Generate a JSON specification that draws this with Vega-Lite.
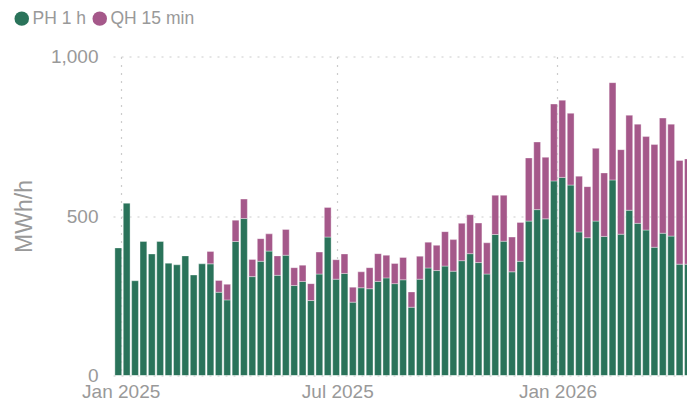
{
  "$schema": "https://vega.github.io/schema/vega-lite/v6.json",
  "width": 574,
  "height": 319,
  "autosize": "none",
  "padding": {"left": 113, "top": 56.5, "right": 0, "bottom": 28.5},
  "background": "white",
  "config": {
    "font": "Liberation Sans",
    "view": {"stroke": null}
  },
  "datasets": {
    "weeks": [
      {"week": "2024-12-30", "ph": 400, "qh": 0},
      {"week": "2025-01-06", "ph": 540, "qh": 0},
      {"week": "2025-01-13", "ph": 297, "qh": 0},
      {"week": "2025-01-20", "ph": 420, "qh": 0},
      {"week": "2025-01-27", "ph": 381, "qh": 0},
      {"week": "2025-02-03", "ph": 420, "qh": 0},
      {"week": "2025-02-10", "ph": 352, "qh": 0},
      {"week": "2025-02-17", "ph": 347, "qh": 0},
      {"week": "2025-02-24", "ph": 375, "qh": 0},
      {"week": "2025-03-03", "ph": 315, "qh": 0},
      {"week": "2025-03-10", "ph": 350, "qh": 0},
      {"week": "2025-03-17", "ph": 350, "qh": 39},
      {"week": "2025-03-24", "ph": 261, "qh": 37},
      {"week": "2025-03-31", "ph": 237, "qh": 49},
      {"week": "2025-04-07", "ph": 420, "qh": 67},
      {"week": "2025-04-14", "ph": 492, "qh": 61},
      {"week": "2025-04-21", "ph": 310, "qh": 54},
      {"week": "2025-04-28", "ph": 358, "qh": 71},
      {"week": "2025-05-05", "ph": 390, "qh": 54},
      {"week": "2025-05-12", "ph": 314, "qh": 61},
      {"week": "2025-05-19", "ph": 377, "qh": 81},
      {"week": "2025-05-26", "ph": 282, "qh": 56},
      {"week": "2025-06-02", "ph": 295, "qh": 51},
      {"week": "2025-06-09", "ph": 235, "qh": 53},
      {"week": "2025-06-16", "ph": 318, "qh": 69},
      {"week": "2025-06-23", "ph": 434, "qh": 93},
      {"week": "2025-06-30", "ph": 302, "qh": 61},
      {"week": "2025-07-07", "ph": 320, "qh": 61},
      {"week": "2025-07-14", "ph": 230, "qh": 47},
      {"week": "2025-07-21", "ph": 275, "qh": 50},
      {"week": "2025-07-28", "ph": 272, "qh": 66},
      {"week": "2025-08-04", "ph": 295, "qh": 87},
      {"week": "2025-08-11", "ph": 306, "qh": 71},
      {"week": "2025-08-18", "ph": 288, "qh": 63},
      {"week": "2025-08-25", "ph": 300, "qh": 70},
      {"week": "2025-09-01", "ph": 214, "qh": 48},
      {"week": "2025-09-08", "ph": 302, "qh": 72},
      {"week": "2025-09-15", "ph": 337, "qh": 81},
      {"week": "2025-09-22", "ph": 329, "qh": 79},
      {"week": "2025-09-29", "ph": 343, "qh": 108},
      {"week": "2025-10-06", "ph": 327, "qh": 99},
      {"week": "2025-10-13", "ph": 360, "qh": 117},
      {"week": "2025-10-20", "ph": 382, "qh": 122},
      {"week": "2025-10-27", "ph": 354, "qh": 124},
      {"week": "2025-11-03", "ph": 318, "qh": 98},
      {"week": "2025-11-10", "ph": 442, "qh": 123},
      {"week": "2025-11-17", "ph": 421, "qh": 144},
      {"week": "2025-11-24", "ph": 325, "qh": 109},
      {"week": "2025-12-01", "ph": 358, "qh": 122},
      {"week": "2025-12-08", "ph": 484, "qh": 198},
      {"week": "2025-12-15", "ph": 520, "qh": 212},
      {"week": "2025-12-22", "ph": 491, "qh": 193},
      {"week": "2025-12-29", "ph": 610, "qh": 241},
      {"week": "2026-01-05", "ph": 621, "qh": 242},
      {"week": "2026-01-12", "ph": 597, "qh": 225},
      {"week": "2026-01-19", "ph": 450, "qh": 175},
      {"week": "2026-01-26", "ph": 432, "qh": 160},
      {"week": "2026-02-02", "ph": 484, "qh": 228},
      {"week": "2026-02-09", "ph": 436, "qh": 199},
      {"week": "2026-02-16", "ph": 613, "qh": 305},
      {"week": "2026-02-23", "ph": 443, "qh": 265},
      {"week": "2026-03-02", "ph": 518, "qh": 298},
      {"week": "2026-03-09", "ph": 477, "qh": 311},
      {"week": "2026-03-16", "ph": 456, "qh": 293},
      {"week": "2026-03-23", "ph": 402, "qh": 322},
      {"week": "2026-03-30", "ph": 446, "qh": 361},
      {"week": "2026-04-06", "ph": 437, "qh": 351},
      {"week": "2026-04-13", "ph": 349, "qh": 325},
      {"week": "2026-04-20", "ph": 349, "qh": 330}
    ]
  },
  "data": {"name": "weeks"},
  "transform": [
    {"fold": ["ph", "qh"], "as": ["key", "value"]},
    {"lookup": "key", "from": {"data": {"values": [{"key": "ph", "series": "PH 1 h"}, {"key": "qh", "series": "QH 15 min"}]}, "key": "key", "fields": ["series"]}},
    {"filter": "datum.value > 0"}
  ],
  "mark": {"type": "bar", "width": 6.8, "clip": true, "stroke": "white", "strokeWidth": 0.5, "strokeOpacity": 0.7},
  "encoding": {
    "x": {
      "field": "week",
      "type": "temporal",
      "scale": {
        "padding": 0,
        "domain": [
          {"year": 2024, "month": 12, "date": 25, "hours": 14, "utc": true},
          {"year": 2026, "month": 4, "date": 19, "hours": 5, "utc": true}
        ]
      },
      "axis": {
        "title": null,
        "format": "%b %Y",
        "tickCount": {"interval": "month", "step": 6},
        "ticks": false,
        "domain": false,
        "labelFontSize": 19,
        "labelColor": "#999999",
        "labelPadding": 7,
        "labelFlush": false,
        "labelOverlap": false,
        "grid": true,
        "gridColor": "#cccccc",
        "gridDash": [2, 6],
        "gridWidth": 1.2
      }
    },
    "y": {
      "field": "value",
      "type": "quantitative",
      "stack": "zero",
      "scale": {"domain": [0, 1000]},
      "axis": {
        "title": "MWh/h",
        "titleFontSize": 23,
        "titleFontWeight": "normal",
        "titleColor": "#999999",
        "titlePadding": 14,
        "values": [0, 500, 1000],
        "format": ",.0f",
        "ticks": false,
        "domain": false,
        "labelFontSize": 19,
        "labelColor": "#999999",
        "labelPadding": 15,
        "grid": true,
        "gridColor": "#cccccc",
        "gridDash": [2, 6],
        "gridWidth": 1.2
      }
    },
    "color": {
      "field": "series",
      "type": "nominal",
      "scale": {"domain": ["PH 1 h", "QH 15 min"], "range": ["#2a735a", "#a5588a"]},
      "legend": {
        "title": null,
        "orient": "none",
        "legendX": -100,
        "legendY": -47,
        "direction": "horizontal",
        "symbolType": "circle",
        "symbolSize": 210,
        "symbolOpacity": 1,
        "symbolStrokeWidth": 0,
        "labelFontSize": 17.5,
        "labelColor": "#999999",
        "labelOffset": 2,
        "columnPadding": 5
      }
    },
    "order": {"field": "series", "sort": "ascending"}
  }
}
